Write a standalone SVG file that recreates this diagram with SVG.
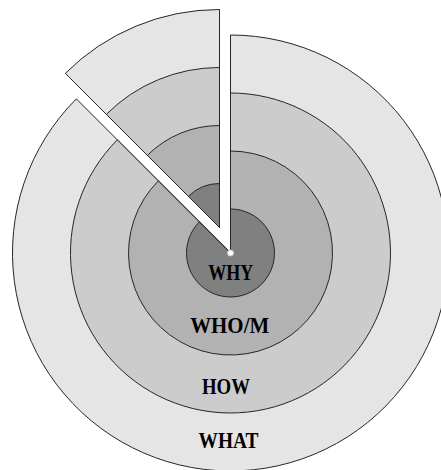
<svg xmlns="http://www.w3.org/2000/svg" width="441" height="470" viewBox="0 0 441 470">
<style>
.ring{stroke:#262626;stroke-width:1;stroke-linejoin:miter}
.r4{fill:#e5e5e5}
.r3{fill:#cccccc}
.r2{fill:#b2b2b2}
.r1{fill:#808080}
.lbl{font-family:"Liberation Serif","Times New Roman",serif;font-weight:bold;font-size:22.5px;fill:#000;text-anchor:middle}
</style>
<rect width="441" height="470" fill="#ffffff"/>
<g id="ring-what">
<path class="ring r4" d="M230.5,253 L230.5,35 A218,218 0 1 1 76.35,98.85 Z"/>
<path class="ring r4" d="M219.5,227.5 L65.35,73.35 A218,218 0 0 1 219.5,9.5 Z"/>
<text class="lbl" x="228.5" y="447.5" textLength="60" lengthAdjust="spacingAndGlyphs">WHAT</text>
</g>
<g id="ring-how">
<path class="ring r3" d="M230.5,253 L230.5,93 A160,160 0 1 1 117.36,139.86 Z"/>
<path class="ring r3" d="M219.5,227.5 L106.36,114.36 A160,160 0 0 1 219.5,67.5 Z"/>
<text class="lbl" x="226" y="393.5" textLength="48" lengthAdjust="spacingAndGlyphs">HOW</text>
</g>
<g id="ring-whom">
<path class="ring r2" d="M230.5,253 L230.5,151 A102,102 0 1 1 158.38,180.88 Z"/>
<path class="ring r2" d="M219.5,227.5 L147.38,155.38 A102,102 0 0 1 219.5,125.5 Z"/>
<text class="lbl" x="229.7" y="333" textLength="79" lengthAdjust="spacingAndGlyphs">WHO/M</text>
</g>
<g id="ring-why">
<path class="ring r1" d="M230.5,253 L230.5,209 A44,44 0 1 1 199.39,221.89 Z"/>
<path class="ring r1" d="M219.5,227.5 L188.39,196.39 A44,44 0 0 1 219.5,183.5 Z"/>
<text class="lbl" x="230.8" y="280" textLength="45" lengthAdjust="spacingAndGlyphs">WHY</text>
</g>
<g id="center-dot">
<circle cx="230.5" cy="253" r="3" fill="#ffffff" stroke="#cfcfcf" stroke-width="1"/>
</g>
</svg>
